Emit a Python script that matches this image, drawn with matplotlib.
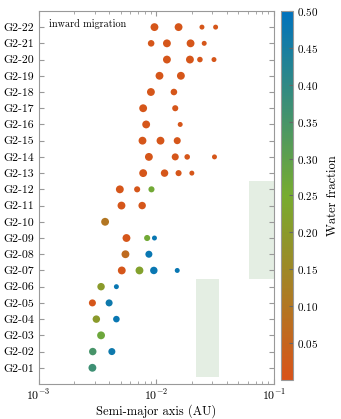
import numpy as np
import matplotlib
matplotlib.use('Agg')
import matplotlib.pyplot as plt
from matplotlib.colors import LinearSegmentedColormap, Normalize
from matplotlib.patches import Rectangle

plt.rcParams['font.family'] = ['cmr10', 'DejaVu Serif']
plt.rcParams['mathtext.fontset'] = 'cm'
plt.rcParams['axes.formatter.use_mathtext'] = True

# simulation labels, bottom to top
runs = ['G2-%02d' % i for i in range(1, 23)]

# semi-major axis (AU) of each planet per run
a_au = [
    [0.00287],
    [0.00289, 0.0042],
    [0.0034],
    [0.0031, 0.00459],
    [0.00287, 0.00398],
    [0.0034, 0.00459],
    [0.0051, 0.00721, 0.00955, 0.0151],
    [0.00548, 0.00867],
    [0.00559, 0.00838, 0.00967],
    [0.00368],
    [0.00507, 0.0076],
    [0.00491, 0.00689, 0.00912],
    [0.00775, 0.01178, 0.0155, 0.0201],
    [0.00867, 0.01452, 0.01835, 0.0313],
    [0.00765, 0.01088, 0.0151],
    [0.00822, 0.0160],
    [0.00775, 0.01452],
    [0.00902, 0.01415],
    [0.01067, 0.01622],
    [0.01234, 0.01936, 0.02354, 0.0310],
    [0.00906, 0.01234, 0.0196, 0.0256],
    [0.00967, 0.0155, 0.0245, 0.0320],
]

# water mass fraction of each planet
water = [
    [0.37],
    [0.35, 0.47],
    [0.27],
    [0.20, 0.48],
    [0.01, 0.47],
    [0.20, 0.48],
    [0.01, 0.22, 0.48, 0.48],
    [0.07, 0.48],
    [0.01, 0.26, 0.48],
    [0.10],
    [0.01, 0.01],
    [0.01, 0.01, 0.26],
    [0.01, 0.01, 0.01, 0.01],
    [0.01, 0.01, 0.01, 0.01],
    [0.01, 0.01, 0.01],
    [0.01, 0.01],
    [0.01, 0.01],
    [0.01, 0.01],
    [0.01, 0.01],
    [0.01, 0.01, 0.01, 0.01],
    [0.01, 0.01, 0.01, 0.01],
    [0.01, 0.01, 0.01, 0.01],
]

# relative planet mass (sets marker size)
mass = [
    [1.0],
    [0.9, 0.8],
    [1.0],
    [0.9, 0.7],
    [0.8, 0.8],
    [0.9, 0.4],
    [1.0, 1.0, 0.9, 0.4],
    [1.0, 0.8],
    [1.0, 0.6, 0.4],
    [1.0],
    [1.0, 0.9],
    [1.0, 0.6, 0.6],
    [1.0, 0.9, 0.6, 0.4],
    [1.0, 0.8, 0.5, 0.4],
    [1.0, 1.0, 0.8],
    [1.0, 0.4],
    [1.0, 0.6],
    [1.0, 0.7],
    [1.0, 1.0],
    [1.0, 1.0, 0.5, 0.4],
    [0.7, 1.0, 1.0, 0.4],
    [1.0, 1.0, 0.4, 0.4],
]

cmap = LinearSegmentedColormap.from_list(
    'wf', [(0.85, 0.325, 0.098), (0.466, 0.674, 0.188), (0.0, 0.447, 0.741)])
norm = Normalize(vmin=0.0, vmax=0.5)

fig = plt.figure(figsize=(3.41, 4.19), dpi=100)
ax = fig.add_axes([0.113, 0.0835, 0.69, 0.8905])
cax = fig.add_axes([0.823, 0.093, 0.035, 0.881])

# shaded regions
shade = '#e4eee3'
ax.add_patch(Rectangle((0.0218, 0.45), 0.0344 - 0.0218, 6.05,
                       facecolor=shade, edgecolor='none', zorder=0))
ax.add_patch(Rectangle((0.0618, 6.5), 0.2 - 0.0618, 6.0,
                       facecolor=shade, edgecolor='none', zorder=0))

for i in range(len(runs)):
    y = np.full(len(a_au[i]), i + 1)
    sc = ax.scatter(a_au[i], y, c=water[i], cmap=cmap, norm=norm,
                    s=np.array(mass[i]) * 32, edgecolors='none', zorder=3)

ax.set_xscale('log')
ax.set_xlim(1e-3, 1e-1)
ax.set_ylim(0, 23)
ax.set_yticks(range(1, 23))
ax.set_yticklabels(runs)
ax.set_xlabel('Semi-major axis (AU)', fontsize=9, labelpad=1)
ax.tick_params(which='both', direction='in', top=True, right=True,
               color='#999999', labelsize=8.5, pad=3)
ax.tick_params(axis='y', which='minor', left=False, right=False)
for sp in ax.spines.values():
    sp.set_color('#999999')
ax.text(0.045, 0.978, 'inward migration', transform=ax.transAxes,
        fontsize=7.3, va='top', ha='left')

cb = fig.colorbar(sc, cax=cax)
cb.set_ticks(np.arange(0.05, 0.51, 0.05))
cb.ax.tick_params(labelsize=8, direction='in', color='#666666', length=3)
cb.outline.set_edgecolor('#999999')
cb.set_label('Water fraction', fontsize=9, labelpad=6)

fig.savefig('out.png', dpi=100)
